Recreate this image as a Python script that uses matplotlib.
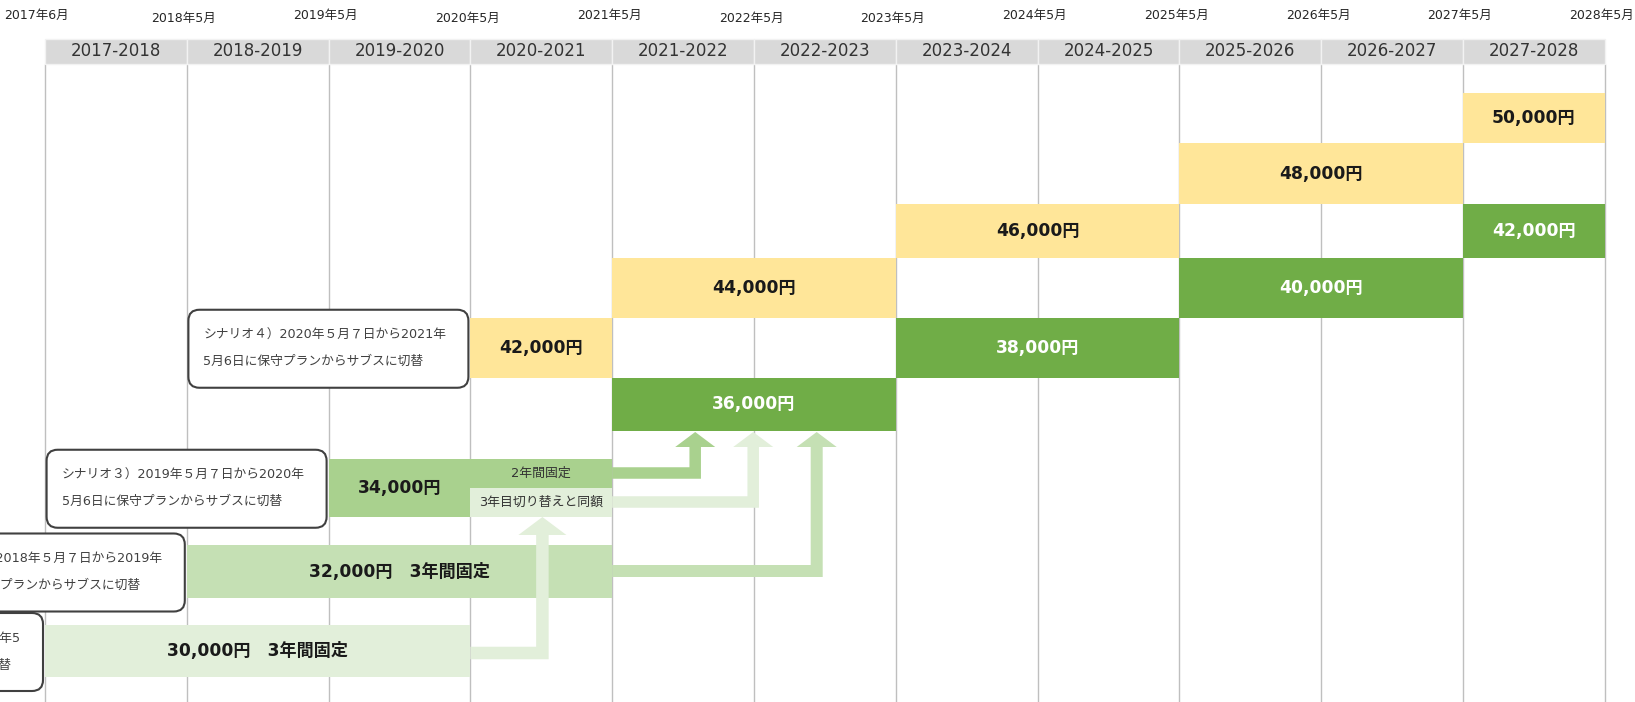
import matplotlib.pyplot as plt
from matplotlib.patches import Rectangle, FancyBboxPatch, Polygon

# Verdana-like latin (DejaVu) with a Japanese fallback
plt.rcParams['font.family'] = ['DejaVu Sans', 'Noto Sans CJK JP']

# ---- data ----
year_edges = [2017, 2018, 2019, 2020, 2021, 2022, 2023, 2024, 2025, 2026, 2027, 2028]
date_labels = ['2017年6月', '2018年5月', '2019年5月', '2020年5月', '2021年5月', '2022年5月',
               '2023年5月', '2024年5月', '2025年5月', '2026年5月', '2027年5月', '2028年5月']
periods = ['2017-2018', '2018-2019', '2019-2020', '2020-2021', '2021-2022', '2022-2023',
           '2023-2024', '2024-2025', '2025-2026', '2026-2027', '2027-2028']

price_labels = ['50,000円', '48,000円', '46,000円', '42,000円', '44,000円', '40,000円',
                '42,000円', '38,000円', '36,000円', '34,000円',
                '32,000円\u30003年間固定', '30,000円\u30003年間固定']
price_start = [2027, 2025, 2023, 2027, 2021, 2025, 2020, 2023, 2021, 2019, 2018, 2017]
price_end = [2028, 2027, 2025, 2028, 2023, 2027, 2021, 2025, 2023, 2020, 2021, 2020]
price_lane = [0, 1, 2, 2, 3, 3, 4, 4, 5, 6, 7, 8]
price_kind = ['new', 'new', 'new', 'sub', 'new', 'sub', 'new', 'sub', 'sub', 'sc3', 'sc2', 'sc1']

note_labels = ['2年間固定', '3年目切り替えと同額']
note_start = [2020, 2020]
note_end = [2021, 2021]
note_half = [0, 1]          # 0 = upper half, 1 = lower half of the lane
note_lane = [6, 6]
note_kind = ['sc3', 'sc1']

scenario_lines = [
    ['シナリオ４）2020年５月７日から2021年', '5月6日に保守プランからサブスに切替'],
    ['シナリオ３）2019年５月７日から2020年', '5月6日に保守プランからサブスに切替'],
    ['シナリオ２）2018年５月７日から2019年', '5月6日に保守プランからサブスに切替'],
    ['シナリオ１）2017年6月から2018年5', '月6日に保守プランからサブスに切替'],
]
scenario_year = [2020, 2019, 2018, 2017]
scenario_lane = [4, 6, 7, 8]

# arrows: which price carries over into which later bar
arrow_kind = ['sc3', 'sc1', 'sc2', 'sc1']
arrow_from_year = [2021, 2021, 2021, 2020]

# ---- style / layout ----
colors = {'new': '#ffe699', 'sub': '#70ad47', 'sc3': '#a9d18e', 'sc2': '#c5e0b4', 'sc1': '#e2efda'}
text_colors = {'new': '#1a1a1a', 'sub': 'white', 'sc3': '#1a1a1a', 'sc2': '#1a1a1a', 'sc1': '#1a1a1a'}

W, H = 1635, 702
PX = 141.8                      # pixels per year
X0 = 2017 - 45 / PX
lane_top = [93, 143, 204, 257.5, 318, 377.5, 459, 545, 625]
lane_bot = [143, 204, 257.5, 318, 377.5, 431, 516.5, 598, 677]
head_top, head_bot = 39, 64
date_y = [15, 18, 15, 18, 15, 18, 18, 15, 15, 15, 15, 15]
date_dx = [-9, -3, -3, -3, -3, -3, -3, -3, -3, -3, -3, -3]
text_pad = [15, 15, 15, 37]

# arrow geometry (px offsets)
arrow_x_off = [83, 141, 204.5, 72]
arrow_y = [473, 502, 571, 653]
arrow_tip = [432, 432, 432, 517]
arrow_head_w = [40, 40, 40, 48]
arrow_head_h = [15, 15, 15, 18]
arrow_shaft = [11.5, 11.5, 12, 12.5]


def dx(p):
    return p / PX


fig = plt.figure(figsize=(W / 100, H / 100), dpi=100)
ax = fig.add_axes([0, 0, 1, 1])
ax.set_xlim(X0, X0 + W / PX)
ax.set_ylim(H, 0)
ax.axis('off')

# grid lines
ax.vlines(year_edges, head_bot, H, color='#bfbfbf', lw=1.0, zorder=1)

# header
for i, p in enumerate(periods):
    ax.add_patch(Rectangle((year_edges[i], head_top), 1, head_bot - head_top,
                           facecolor='#d9d9d9', edgecolor='#f2f2f2', lw=1, zorder=2))
    ax.text(year_edges[i] + 0.5, (head_top + head_bot) / 2, p, ha='center', va='center',
            fontsize=12, color='#333333', zorder=3)

for i, lab in enumerate(date_labels):
    ax.text(year_edges[i] + dx(date_dx[i]), date_y[i], lab, ha='center', va='center',
            fontsize=9, color='#262626')

# price bars
for lab, s, e, ln, k in zip(price_labels, price_start, price_end, price_lane, price_kind):
    top, bot = lane_top[ln], lane_bot[ln]
    ax.add_patch(Rectangle((s, top), e - s, bot - top, facecolor=colors[k], edgecolor='none', zorder=2))
    ax.text((s + e) / 2, (top + bot) / 2, lab, ha='center', va='center', fontsize=12.3,
            fontweight='bold', color=text_colors[k], zorder=3)

for lab, s, e, hf, ln, k in zip(note_labels, note_start, note_end, note_half, note_lane, note_kind):
    mid = (lane_top[ln] + lane_bot[ln]) / 2
    top, bot = (lane_top[ln], mid) if hf == 0 else (mid, lane_bot[ln])
    ax.add_patch(Rectangle((s, top), e - s, bot - top, facecolor=colors[k], edgecolor='none', zorder=2))
    ax.text((s + e) / 2, (top + bot) / 2, lab, ha='center', va='center', fontsize=9.3,
            color='#333333', zorder=3)

# L-shaped arrows
for k, x0, xo, yc, yt, hw, hh, sw in zip(arrow_kind, arrow_from_year, arrow_x_off, arrow_y,
                                           arrow_tip, arrow_head_w, arrow_head_h, arrow_shaft):
    xv = x0 + dx(xo)
    h = sw / 2
    yb = yt + hh
    pts = [(x0, yc - h), (xv - dx(h), yc - h), (xv - dx(h), yb), (xv - dx(hw / 2), yb),
           (xv, yt), (xv + dx(hw / 2), yb), (xv + dx(h), yb), (xv + dx(h), yc + h), (x0, yc + h)]
    ax.add_patch(Polygon(pts, closed=True, facecolor=colors[k], edgecolor='none', zorder=4))

# scenario callouts
box_w, box_h = dx(280), 78
for lines, yr, ln, pad in zip(scenario_lines, scenario_year, scenario_lane, text_pad):
    right = yr - dx(2)
    left = right - box_w
    yc = (lane_top[ln] + lane_bot[ln]) / 2 + 1
    ax.add_patch(FancyBboxPatch((left, yc - box_h / 2), box_w, box_h,
                                boxstyle='round,pad=0,rounding_size=%f' % dx(11),
                                mutation_aspect=PX, facecolor='white', edgecolor='#404040',
                                lw=1.5, zorder=5))
    ax.text(left + dx(pad), yc - 13, lines[0], ha='left', va='center', fontsize=9.2,
            color='#404040', zorder=6)
    ax.text(left + dx(pad), yc + 13, lines[1], ha='left', va='center', fontsize=9.2,
            color='#404040', zorder=6)

fig.savefig('out.png', dpi=100)
